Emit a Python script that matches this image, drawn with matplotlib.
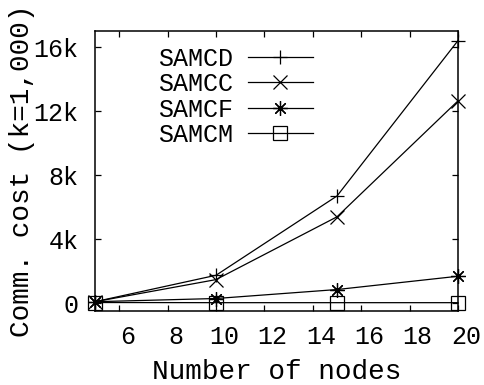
import matplotlib
matplotlib.use("Agg")
import matplotlib.pyplot as plt
from matplotlib.transforms import ScaledTranslation

nodes = [5, 10, 15, 20]
samcd = [100, 1750, 6700, 16400]
samcc = [100, 1480, 5400, 12640]
samcf = [100, 300, 860, 1690]
samcm = [50, 40, 40, 40]
series_names = ["SAMCD", "SAMCC", "SAMCF", "SAMCM"]
xticks = [6, 8, 10, 12, 14, 16, 18, 20]
yticks = [0, 4000, 8000, 12000, 16000]
ytick_labels = ["0", "4k", "8k", "12k", "16k"]

plt.rcParams['font.family'] = ['Liberation Mono', 'DejaVu Sans']

fig = plt.figure(figsize=(4.84, 3.85), dpi=100)
ax = fig.add_axes([95/484, 1-311/385, (458-95)/484, (311-31)/385])

markers = ['+', 'x', (8, 2, 0), 's']
msizes = [10, 9.5, 10.5, 10]
for vals, name, m, ms in zip([samcd, samcc, samcf, samcm], series_names, markers, msizes):
    ax.plot(nodes, vals, color='black', lw=0.9, marker=m, markersize=ms,
            markerfacecolor='none', markeredgecolor='black', markeredgewidth=0.9,
            label=name, clip_on=False)

ax.set_xlim(5, 20)
ax.set_ylim(-480, 17000)
ax.set_xticks(xticks)
ax.set_yticks(yticks)
ax.set_yticklabels(ytick_labels)
ax.tick_params(direction='in', length=4, width=0.9, top=True, right=True,
               labelsize=18)
ax.tick_params(axis='y', pad=12)
ax.tick_params(axis='x', pad=10)
for lab in ax.get_xticklabels():
    lab.set_transform(lab.get_transform() + ScaledTranslation(8/100, 0, fig.dpi_scale_trans))
for sp in ax.spines.values():
    sp.set_linewidth(1.1)

ax.set_xlabel("Number of nodes", fontsize=20, labelpad=7)
ax.set_ylabel("Comm. cost (k=1,000)", fontsize=20, labelpad=-1)

leg = ax.legend(loc='upper left', bbox_to_anchor=(0.145, 0.98), frameon=False,
                markerfirst=False, fontsize=18, handlelength=2.6,
                handletextpad=0.6, labelspacing=0.06, borderaxespad=0)

fig.savefig("out.png", dpi=100)
